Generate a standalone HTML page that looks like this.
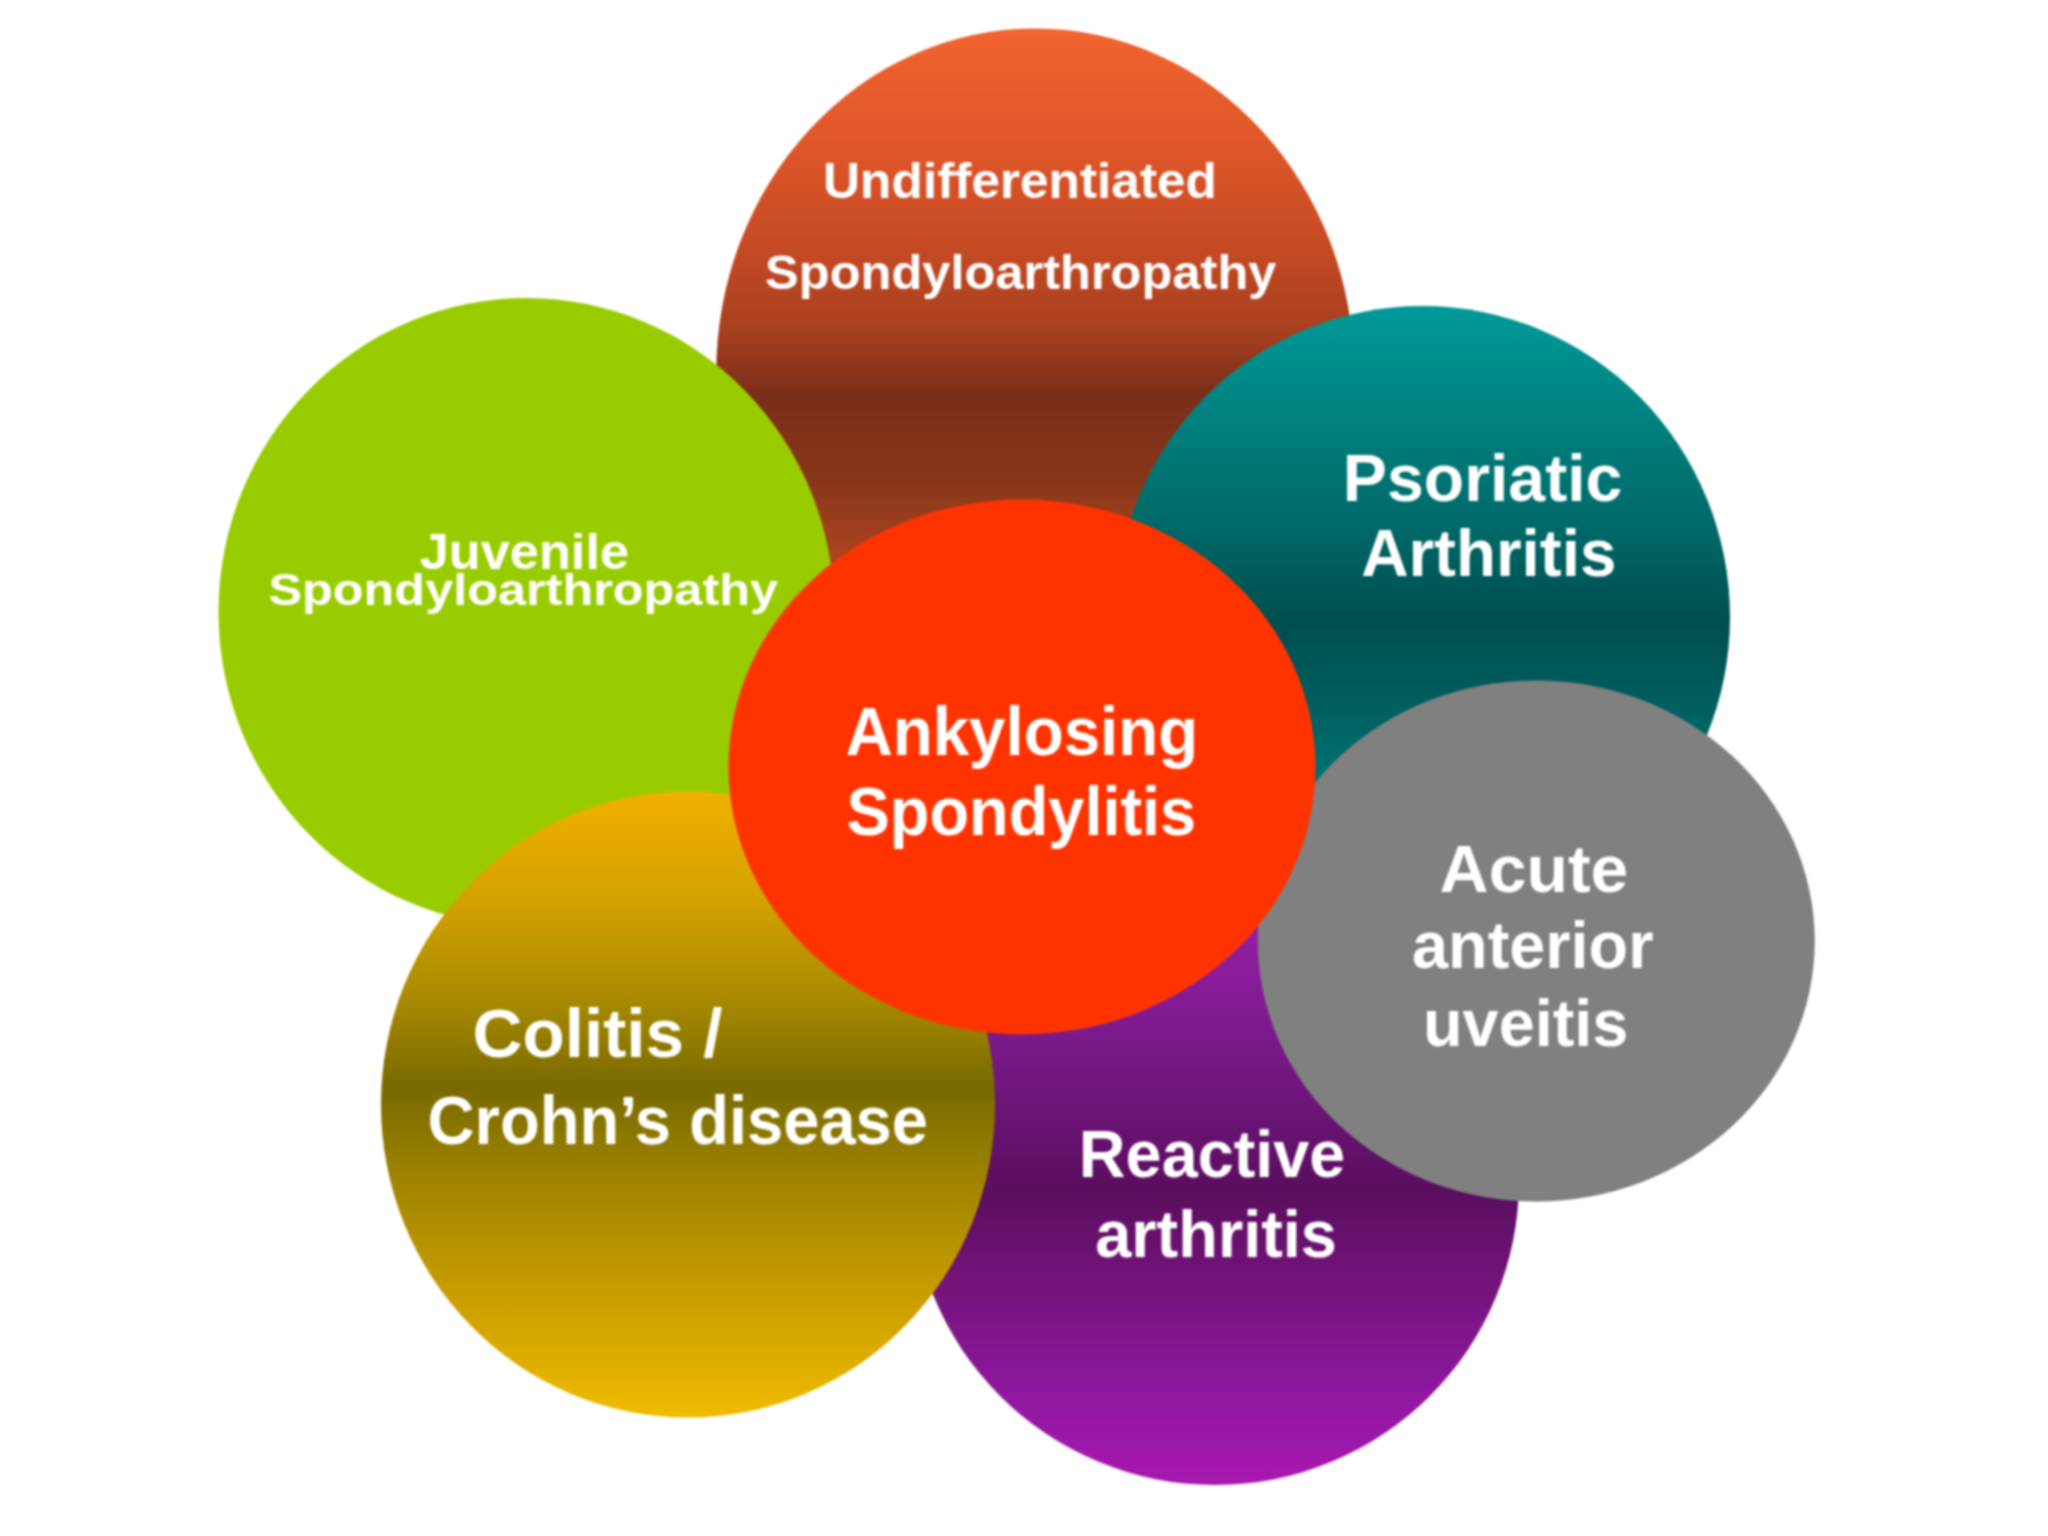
<!DOCTYPE html>
<html><head><meta charset="utf-8"><title>Spondyloarthropathies</title>
<style>html,body{margin:0;padding:0;background:#fff;width:2048px;height:1536px;overflow:hidden}
svg{display:block;filter:blur(1.2px)}
text{font-family:"Liberation Sans",sans-serif;font-weight:bold;fill:#FFFFFF}</style></head>
<body><svg width="2048" height="1536" viewBox="0 0 2048 1536">
<defs><linearGradient id="g_brown" gradientUnits="userSpaceOnUse" x1="0" y1="28" x2="0" y2="718"><stop offset="0.0000" stop-color="#F26430"/><stop offset="0.1768" stop-color="#DE5629"/><stop offset="0.3217" stop-color="#C44A24"/><stop offset="0.4377" stop-color="#A8401F"/><stop offset="0.5319" stop-color="#7A2D18"/><stop offset="0.6551" stop-color="#883619"/><stop offset="1.0000" stop-color="#F26430"/></linearGradient><linearGradient id="g_teal" gradientUnits="userSpaceOnUse" x1="0" y1="306" x2="0" y2="928"><stop offset="0.0000" stop-color="#009A98"/><stop offset="0.2315" stop-color="#007A78"/><stop offset="0.3441" stop-color="#006A6A"/><stop offset="0.5048" stop-color="#004E4E"/><stop offset="0.6656" stop-color="#006262"/><stop offset="1.0000" stop-color="#009A98"/></linearGradient><linearGradient id="g_purple" gradientUnits="userSpaceOnUse" x1="0" y1="877" x2="0" y2="1485"><stop offset="0.0000" stop-color="#A020B0"/><stop offset="0.2681" stop-color="#7A1A8A"/><stop offset="0.5148" stop-color="#5A0E5E"/><stop offset="0.6957" stop-color="#781580"/><stop offset="0.8602" stop-color="#9018A0"/><stop offset="1.0000" stop-color="#A818B0"/></linearGradient><linearGradient id="g_gold" gradientUnits="userSpaceOnUse" x1="0" y1="791" x2="0" y2="1418"><stop offset="0.0000" stop-color="#F2B000"/><stop offset="0.1738" stop-color="#D4A200"/><stop offset="0.3333" stop-color="#A88A00"/><stop offset="0.4737" stop-color="#786A00"/><stop offset="0.6204" stop-color="#A08400"/><stop offset="0.7799" stop-color="#C49A00"/><stop offset="1.0000" stop-color="#F0BC00"/></linearGradient></defs>
<rect width="2048" height="1536" fill="#FFFFFF"/>
<ellipse cx="1035.2" cy="373.2" rx="319" ry="344.8" fill="url(#g_brown)"/>
<ellipse cx="526.5" cy="612" rx="308" ry="314" fill="#99CC00"/>
<ellipse cx="1422.5" cy="617" rx="307.5" ry="311" fill="url(#g_teal)"/>
<ellipse cx="1215" cy="1181" rx="304" ry="304" fill="url(#g_purple)"/>
<ellipse cx="1536.25" cy="941" rx="278.5" ry="260.5" fill="#808080"/>
<ellipse cx="688" cy="1104.5" rx="307" ry="313" fill="url(#g_gold)"/>
<ellipse cx="1022" cy="767" rx="293.5" ry="267.4" fill="#FF3300"/>
<text x="823.0" y="197.7" font-size="50" textLength="394.0" lengthAdjust="spacingAndGlyphs" fill="#FFF4E8">Undifferentiated</text>
<text x="765.0" y="289" font-size="48" textLength="511.4" lengthAdjust="spacingAndGlyphs" fill="#FFF4E8">Spondyloarthropathy</text>
<text x="419.8" y="569.2" font-size="50" textLength="209.2" lengthAdjust="spacingAndGlyphs" fill="#F2FFCC">Juvenile</text>
<text x="268.4" y="605.4" font-size="45" textLength="509.6" lengthAdjust="spacingAndGlyphs" fill="#F2FFCC">Spondyloarthropathy</text>
<text x="1342.8" y="500.5" font-size="66" textLength="279.6" lengthAdjust="spacingAndGlyphs" fill="#EEFFFF">Psoriatic</text>
<text x="1361.2" y="575.5" font-size="66" textLength="255.2" lengthAdjust="spacingAndGlyphs" fill="#EEFFFF">Arthritis</text>
<text x="845.4" y="755" font-size="68" textLength="352.8" lengthAdjust="spacingAndGlyphs" fill="#FFF4EC">Ankylosing</text>
<text x="846.6" y="834.7" font-size="68" textLength="349.6" lengthAdjust="spacingAndGlyphs" fill="#FFF4EC">Spondylitis</text>
<text x="1439.6" y="892.1" font-size="66" textLength="188.8" lengthAdjust="spacingAndGlyphs" fill="#FAFAFA">Acute</text>
<text x="1412.0" y="967.8" font-size="66" textLength="241.4" lengthAdjust="spacingAndGlyphs" fill="#FAFAFA">anterior</text>
<text x="1423.0" y="1045.6" font-size="66" textLength="205.4" lengthAdjust="spacingAndGlyphs" fill="#FAFAFA">uveitis</text>
<text x="472.6" y="1057.3" font-size="68" textLength="249.8" lengthAdjust="spacingAndGlyphs" fill="#FFFADC">Colitis /</text>
<text x="427.6" y="1143.6" font-size="68" textLength="500.4" lengthAdjust="spacingAndGlyphs" fill="#FFFADC">Crohn’s disease</text>
<text x="1078.8" y="1177.4" font-size="66" textLength="266.6" lengthAdjust="spacingAndGlyphs" fill="#FFEEFF">Reactive</text>
<text x="1095.2" y="1256.8" font-size="66" textLength="241.8" lengthAdjust="spacingAndGlyphs" fill="#FFEEFF">arthritis</text>
</svg></body></html>
